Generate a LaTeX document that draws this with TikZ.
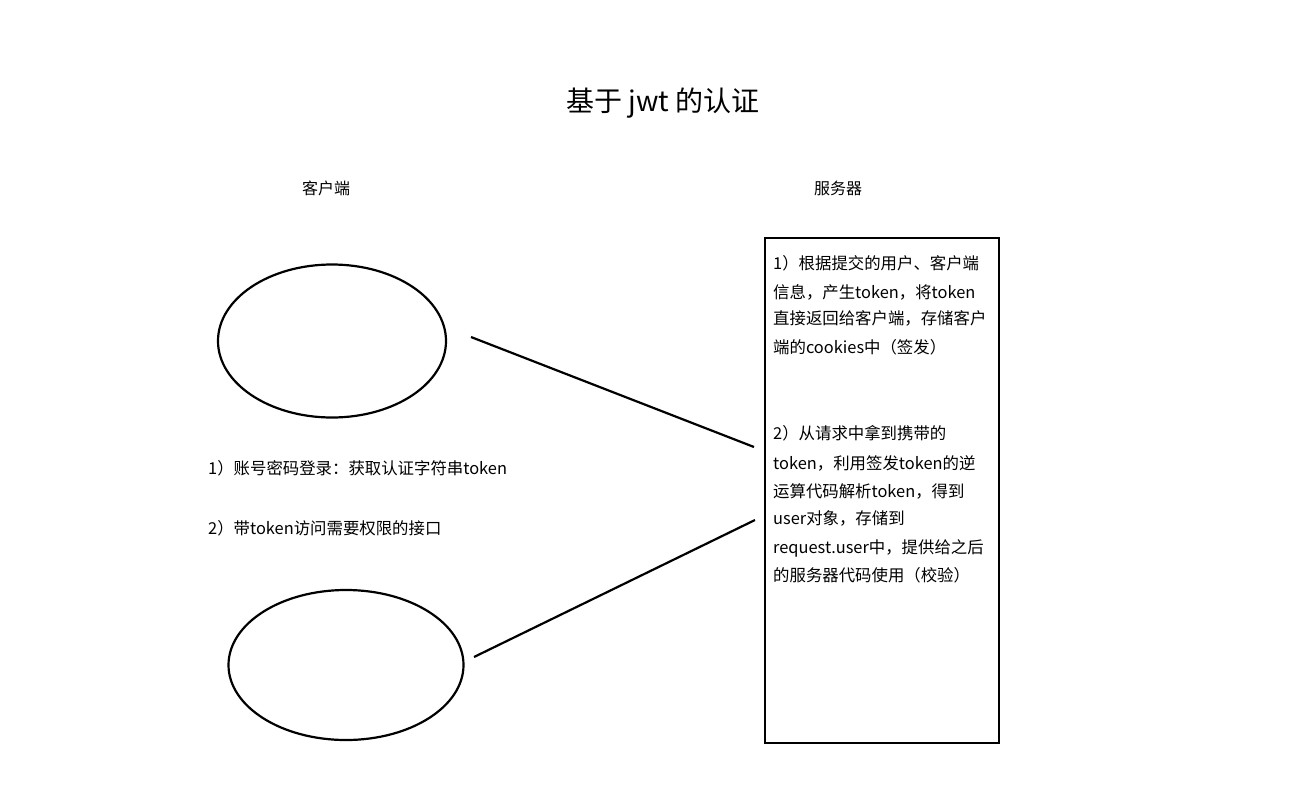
\documentclass[tikz,border=0pt]{standalone}
\usepackage{fontspec}
\setmainfont{Noto Sans CJK SC}
\usetikzlibrary{shapes.geometric}
\begin{document}
\begin{tikzpicture}[x=1pt,y=-1pt,
  outline/.style={draw=black, line width=2.2pt},
  txt/.style={anchor=base west, inner sep=0pt, font=\fontsize{16.4}{20}\selectfont},
  lbl/.style={anchor=base, inner sep=0pt, font=\fontsize{16}{20}\selectfont},
  link/.style={draw=black, line width=2.2pt}]
\useasboundingbox (0,0) rectangle (1310,793);
\fill[white] (0,0) rectangle (1310,793);

% title and headings
\node[anchor=base, inner sep=0pt, font=\fontsize{28}{32}\selectfont] (title) at (663,111) {基于 jwt 的认证};
\node[lbl] (client) at (326,194) {客户端};
\node[lbl] (server) at (838,194) {服务器};

% shapes
\node[ellipse, outline, minimum width=228pt, minimum height=153pt, inner sep=0pt] (c1) at (332,341) {};
\node[ellipse, outline, minimum width=235pt, minimum height=150pt, inner sep=0pt] (c2) at (346,665) {};
\node[rectangle, outline, minimum width=234pt, minimum height=505pt, inner sep=0pt] (srv) at (882,490.5) {};

% connectors
\coordinate (a1) at (471,337);
\coordinate (b1) at (754,447);
\coordinate (a2) at (474,657);
\coordinate (b2) at (755,520);
\draw[link] (a1) -- (b1);
\draw[link] (a2) -- (b2);

% client notes
\node[txt] (n1) at (208,474) {1）账号密码登录：获取认证字符串token};
\node[txt] (n2) at (208,534) {2）带token访问需要权限的接口};

% server text block 1
\node[txt] (s11) at (773,269) {1）根据提交的用户、客户端};
\node[txt] (s12) at (773,298) {信息，产生token，将token};
\node[txt] (s13) at (773,324) {直接返回给客户端，存储客户};
\node[txt] (s14) at (773,353) {端的cookies中（签发）};

% server text block 2
\node[txt] (s21) at (773,439) {2）从请求中拿到携带的};
\node[txt] (s22) at (773,469) {token，利用签发token的逆};
\node[txt] (s23) at (773,497) {运算代码解析token，得到};
\node[txt] (s24) at (773,524) {user对象，存储到};
\node[txt] (s25) at (773,553) {request.user中，提供给之后};
\node[txt] (s26) at (773,581) {的服务器代码使用（校验）};
\end{tikzpicture}
\end{document}
